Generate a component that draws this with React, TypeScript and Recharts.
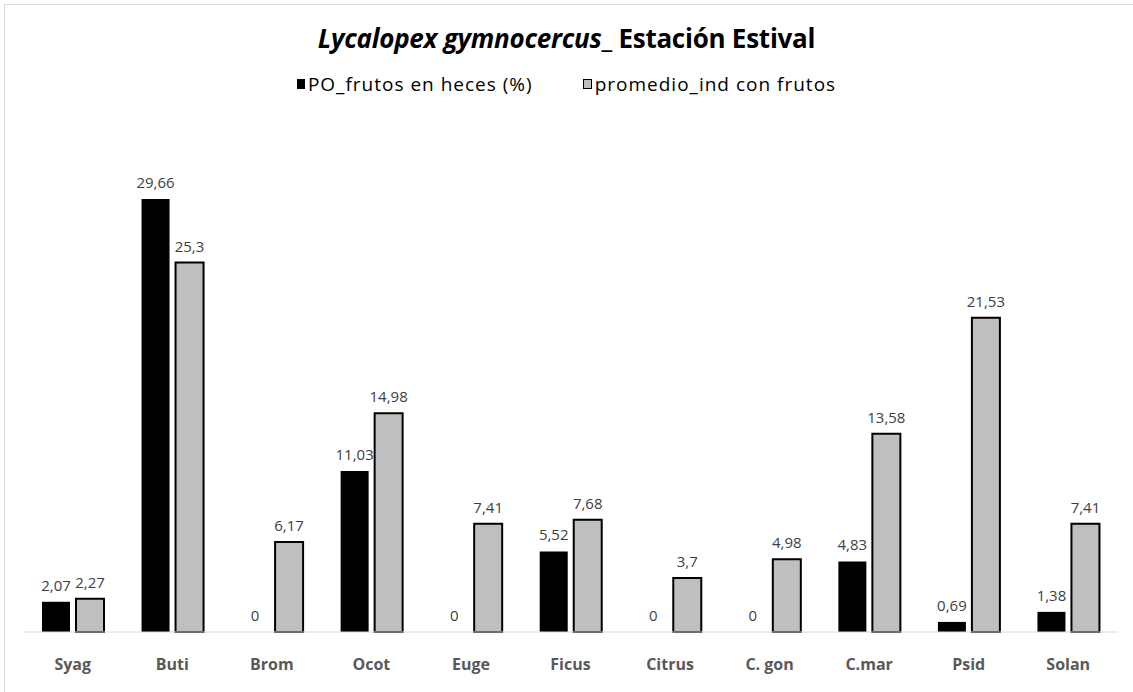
import React from 'react';
import { BarChart, Bar, XAxis, YAxis, LabelList } from 'recharts';

const categories = ['Syag', 'Buti', 'Brom', 'Ocot', 'Euge', 'Ficus', 'Citrus', 'C. gon', 'C.mar', 'Psid', 'Solan'];
const poFrutos = [2.07, 29.66, 0, 11.03, 0, 5.52, 0, 0, 4.83, 0.69, 1.38];
const promedioInd = [2.27, 25.3, 6.17, 14.98, 7.41, 7.68, 3.7, 4.98, 13.58, 21.53, 7.41];

const data = categories.map((name, i) => ({
  name,
  po: poFrutos[i],
  promedio: promedioInd[i],
}));

const fmt = (v: any) => String(v).replace('.', ',');
const font = '"Open Sans", "Noto Sans", sans-serif';

// label drawn by hand so that zero values still get their "0"
const renderLabel = (props: any) => {
  const { x, y, width, height, value } = props;
  const top = height < 0 ? y + height : y;
  return (
    <text x={x + width / 2} y={top - 11} textAnchor="middle" fill="#404040" fontSize={15} fontFamily={font}>
      {fmt(value)}
    </text>
  );
};

// zero bars get a hair-thin height so the bar (and its label) is still produced
const zeroSize = (v: any) => (v === 0 ? 0.01 : 0);

const App: React.FC = () => {
  return (
    <div style={{ position: 'absolute', left: 0, top: 0, width: 1133, height: 692, overflow: 'hidden', background: '#fff', fontFamily: font }}>
      <div style={{ position: 'absolute', left: 4, top: 4, width: 1150, height: 720, border: '1px solid #d9d9d9' }} />
      <div style={{ position: 'absolute', left: 0, top: 20, width: 1133, textAlign: 'center', fontSize: 26, fontWeight: 'bold', color: '#000', letterSpacing: -0.25 }}>
        <i>Lycalopex gymnocercus</i>_ Estación Estival
      </div>
      <div style={{ position: 'absolute', left: 0, top: 71, width: 1133, display: 'flex', justifyContent: 'center', fontSize: 19, color: '#000', letterSpacing: 1 }}>
        <span style={{ display: 'flex', alignItems: 'center', marginRight: 50 }}>
          <span style={{ width: 8, height: 10, background: '#000', marginRight: 3, display: 'inline-block' }} />
          PO_frutos en heces (%)
        </span>
        <span style={{ display: 'flex', alignItems: 'center' }}>
          <span style={{ width: 7, height: 8, background: '#bfbfbf', border: '1px solid #000', marginRight: 3, display: 'inline-block' }} />
          promedio_ind con frutos
        </span>
      </div>
      <div style={{ position: 'absolute', left: 0, top: 0 }}>
        <BarChart width={1133} height={692} data={data} margin={{ top: 121, right: 15, left: 23, bottom: 30 }} barGap={6} barSize={28}>
          <XAxis
            dataKey="name"
            axisLine={{ stroke: '#d9d9d9', strokeWidth: 1 }}
            tickLine={false}
            tickMargin={21}
            tick={{ fill: '#595959', fontSize: 16, fontWeight: 'bold', fontFamily: font }}
            interval={0}
          />
          <YAxis hide domain={[0, 35]} />
          <Bar dataKey="po" fill="#000" minPointSize={zeroSize} isAnimationActive={false}>
            <LabelList dataKey="po" content={renderLabel} />
          </Bar>
          <Bar dataKey="promedio" fill="#bfbfbf" stroke="#000" strokeWidth={2} isAnimationActive={false}>
            <LabelList dataKey="promedio" content={renderLabel} />
          </Bar>
        </BarChart>
      </div>
    </div>
  );
};

export default App;
